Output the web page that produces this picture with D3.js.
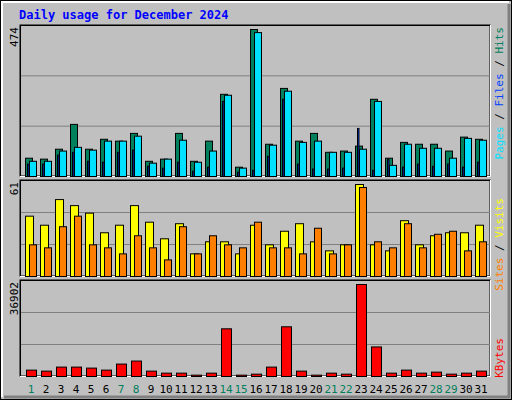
<!DOCTYPE html>
<html><head><meta charset="utf-8">
<script src="https://cdn.jsdelivr.net/npm/d3@7"></script>
<style>body{margin:0;background:#fff}</style>
</head><body><svg id="c" width="512" height="400"></svg>
<script>
const days = d3.range(1, 32);
const weekend = [1, 7, 8, 14, 15, 21, 22, 28, 29];
const hits = [59,56,88,168,88,120,114,139,49,56,139,49,114,265,30,474,104,284,114,139,78,82,98,249,59,110,104,104,82,127,120];
const files = [49,49,82,94,85,114,114,130,43,56,117,46,82,262,27,464,101,275,110,114,78,78,88,242,36,104,91,91,59,123,117];
const pages = [40,40,69,78,49,46,78,85,33,27,46,17,30,242,14,20,65,249,40,24,24,27,155,20,56,30,40,33,40,30,46];
const visits = [40,34,51,47,42,29,34,47,36,25,35,15,23,23,15,34,21,30,35,23,17,21,61,21,17,37,21,27,29,29,34];
const sites = [21,19,33,40,21,19,15,27,19,11,33,15,27,21,19,36,19,19,15,32,15,21,59,23,19,35,19,28,30,17,23];
const kbytes = [2560,2155,3772,3772,3368,2560,4984,6196,2155,1347,1347,539,1347,19127,539,943,3772,19935,2155,539,1347,943,36902,11853,1347,2560,1347,1751,943,1347,2155];

const svg = d3.select("#c");
const font = "'DejaVu Sans Mono', monospace";

// background with bevel
svg.append("rect").attr("x", 0).attr("y", 0).attr("width", 512).attr("height", 400).attr("fill", "#000");
svg.append("rect").attr("x", 1).attr("y", 1).attr("width", 510).attr("height", 398).attr("fill", "#c0c0c0");
svg.append("path").attr("d", "M2,397V2H509").attr("stroke", "#fff").attr("stroke-width", 2).attr("fill", "none");
svg.append("path").attr("d", "M4,397H509V4").attr("stroke", "#808080").attr("stroke-width", 3).attr("fill", "none");

svg.append("text").attr("x", 19).attr("y", 19).attr("fill", "#0000ff")
    .attr("font-family", font).attr("font-weight", "bold").attr("font-size", 12)
    .text("Daily usage for December 2024");

const x = d3.scaleLinear().domain([1, 31]).range([25, 475]);

function panel(top, bottom, max) {
    svg.append("rect").attr("x", 20).attr("y", top).attr("width", 470).attr("height", bottom - top)
        .attr("fill", "#c0c0c0").attr("stroke", "#000");
    svg.append("path").attr("d", `M20.5,${bottom}V${top}.5H490`).attr("stroke", "#000").attr("fill", "none");
    svg.append("path").attr("d", `M490.5,${top}V${bottom}.5H20`).attr("stroke", "#fff").attr("fill", "none");
    const y = d3.scaleLinear().domain([0, max]).range([bottom, top + 4]);
    const h = bottom - top;
    [1 / 3, 2 / 3].forEach(f => {
        svg.append("line").attr("x1", 21).attr("x2", 490)
            .attr("y1", top + h * f + 0.5).attr("y2", top + h * f + 0.5)
            .attr("stroke", "#808080");
    });
    svg.append("text").attr("transform", `translate(18,${top + 2}) rotate(-90)`)
        .attr("text-anchor", "end").attr("font-family", font).attr("font-size", 11)
        .text(max);
    return y;
}

function bars(data, y, dx, w, color) {
    svg.append("g").selectAll("rect").data(data).join("rect")
        .attr("x", (d, i) => x(days[i]) + dx + 0.5)
        .attr("y", d => y(d) + 0.5)
        .attr("width", w)
        .attr("height", d => Math.max(0, y(0) - y(d)))
        .attr("fill", color).attr("stroke", "#000");
}

function sideLabel(cx, top, parts) {
    const t = svg.append("text").attr("transform", `translate(${cx},${top}) rotate(-90)`)
        .attr("text-anchor", "end").attr("font-family", font).attr("font-size", 11);
    parts.forEach(([s, c]) => t.append("tspan").attr("fill", c).text(s));
}

const y1 = panel(25, 176, 474);
bars(hits, y1, 0, 7, "#00805c");
bars(files, y1, 4, 7, "#00e0ff");
bars(pages, y1, 2, 1.5, "#0040ff");
sideLabel(503, 27, [["Pages", "#00e0ff"], [" / ", "#000"], ["Files", "#0040ff"], [" / ", "#000"], ["Hits", "#00805c"]]);

const y2 = panel(180, 276, 61);
bars(visits, y2, 0, 8, "#ffff00");
bars(sites, y2, 4, 7, "#ff8000");
sideLabel(503, 198, [["Sites", "#ff8000"], [" / ", "#000"], ["Visits", "#ffff00"]]);

const y3 = panel(280, 376, 36902);
bars(kbytes, y3, 1, 10, "#ff0000");
sideLabel(503, 338, [["KBytes", "#ff0000"]]);

svg.append("g").selectAll("text").data(days).join("text")
    .attr("x", d => x(d) + 6).attr("y", 393)
    .attr("text-anchor", "middle").attr("font-family", font).attr("font-size", 11)
    .attr("fill", d => weekend.includes(d) ? "#00805c" : "#000")
    .text(d => d);
</script></body></html>
